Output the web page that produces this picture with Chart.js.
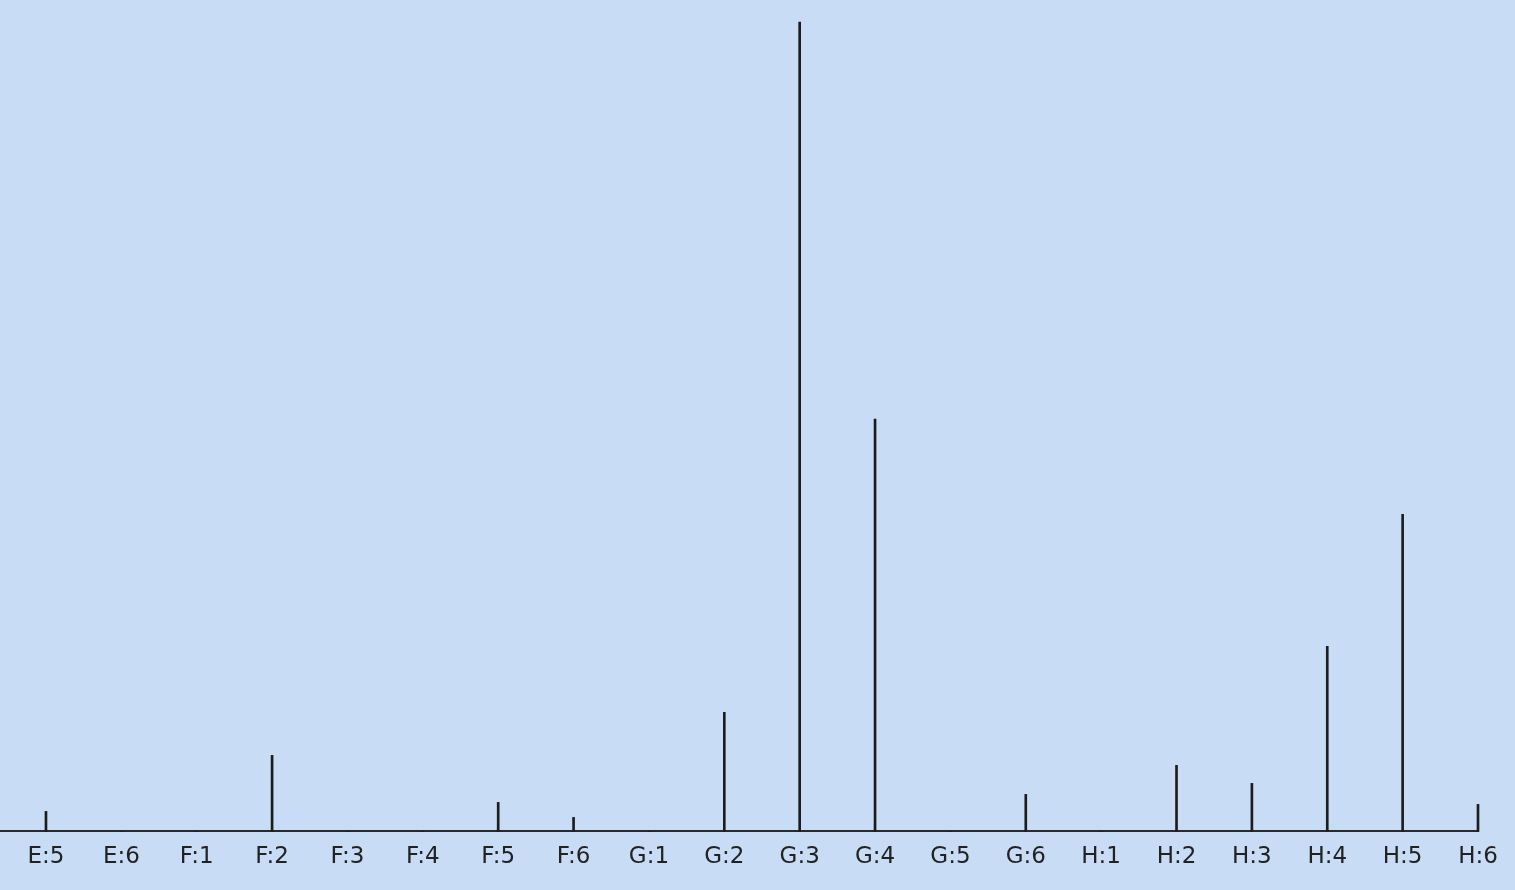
<!DOCTYPE html>
<html>
<head>
<meta charset="utf-8">
<script src="https://cdn.jsdelivr.net/npm/chart.js@4/dist/chart.umd.min.js"></script>
<style>
  html, body { margin: 0; padding: 0; background: #c8dcf5; }
  #wrap { width: 1515px; height: 890px; position: relative; }
</style>
</head>
<body>
<div id="wrap"><canvas id="grafico"></canvas></div>
<script>
/* categorias y alturas de las lineas (unidades relativas) */
var categorias = ['E:5', 'E:6', 'F:1', 'F:2', 'F:3', 'F:4', 'F:5', 'F:6', 'G:1', 'G:2',
                  'G:3', 'G:4', 'G:5', 'G:6', 'H:1', 'H:2', 'H:3', 'H:4', 'H:5', 'H:6'];
var valores = [20, 0, 0, 76, 0, 0, 29, 14, 0, 119,
               809, 412, 0, 37, 0, 66, 48, 185, 317, 27];

var puntos = categorias.map(function (c, i) { return { x: i, y: valores[i] }; });

var ctx = document.getElementById('grafico').getContext('2d');
var chart = new Chart(ctx, {
    type: 'bar',
    data: {
        datasets: [{
            data: puntos,
            backgroundColor: '#1c1c1c',
            borderWidth: 0,
            barThickness: 2,
            clip: false
        }]
    },
    options: {
        responsive: true,
        maintainAspectRatio: false,
        animation: false,
        layout: {
            padding: { top: 0, right: 37, bottom: 7, left: 0 }
        },
        plugins: {
            legend: { display: false },
            tooltip: { enabled: false }
        },
        scales: {
            x: {
                type: 'linear',
                offset: false,
                min: -0.61,
                max: categorias.length - 1,
                afterBuildTicks: function (scale) {
                    scale.ticks = categorias.map(function (c, i) { return { value: i }; });
                },
                ticks: {
                    autoSkip: false,
                    maxRotation: 0,
                    padding: 12,
                    color: '#222',
                    font: { family: 'DejaVu Sans', size: 23 },
                    callback: function (value) { return categorias[value]; }
                },
                grid: { display: false, drawTicks: false },
                border: { display: true, color: '#2a2a2a', width: 2 }
            },
            y: {
                display: false,
                min: 0,
                max: 831
            }
        }
    }
});
</script>
</body>
</html>
